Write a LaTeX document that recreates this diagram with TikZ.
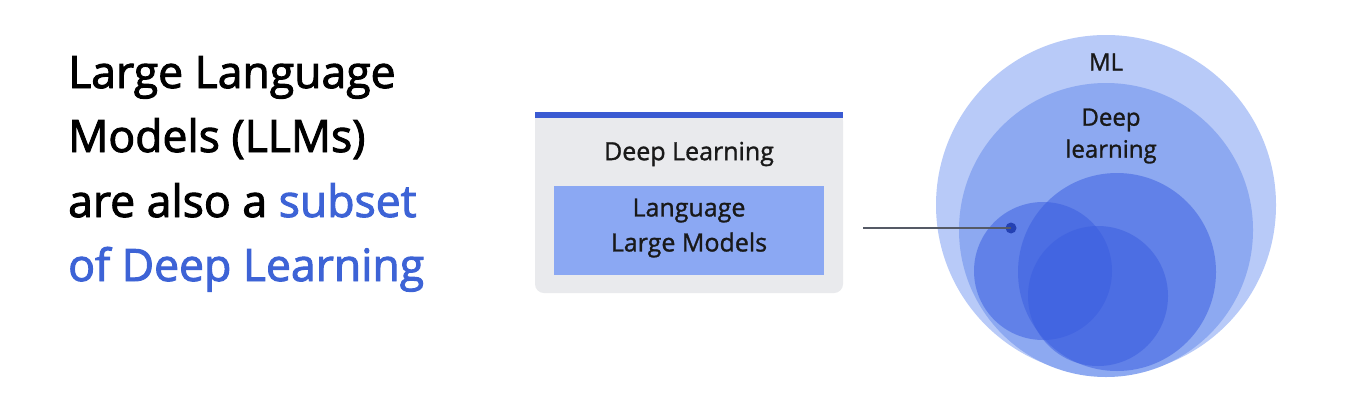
\documentclass[tikz,border=0pt]{standalone}
\usepackage{fontspec}
\setmainfont{Open Sans}
\newfontfamily\titlefont{Open Sans}[FakeBold=2.2]
\newfontfamily\labelfont{Open Sans}[FakeBold=1.2]
\definecolor{titleblue}{HTML}{3D63D6}
\definecolor{barblue}{HTML}{3A5AD2}
\definecolor{boxgrey}{HTML}{E9EAED}
\definecolor{llmbox}{HTML}{8BA8F3}
\definecolor{mlfill}{HTML}{B8CAF8}
\definecolor{dlfill}{HTML}{8DA9F1}
\definecolor{subfill}{HTML}{3A5DE0}
\definecolor{dotblue}{HTML}{2441B3}
\definecolor{linegrey}{HTML}{555A66}
\begin{document}
\begin{tikzpicture}[x=1pt,y=-1pt,
  titletext/.style={anchor=base west, inner sep=0pt, font=\titlefont\fontsize{44.5}{50}\selectfont},
  boxtext/.style={font=\labelfont\fontsize{25}{35}\selectfont, text=black!90, align=center},
  circtext/.style={font=\labelfont\fontsize{24}{32}\selectfont, text=black!90, align=center},
  subcirc/.style={fill=subfill, fill opacity=0.52, draw=none}]
\useasboundingbox (0,0) rectangle (1364,402);
\fill[white] (0,0) rectangle (1364,402);
% title
\node[titletext] (t1) at (68,88) {Large Language};
\node[titletext] (t2) at (68,152) {Models (LLMs)};
\node[titletext] (t3) at (68,217) {are also a \textcolor{titleblue}{subset}};
\node[titletext, text=titleblue] (t4) at (68,281) {of Deep Learning};
% card
\fill[boxgrey, rounded corners=9pt] (535,112) rectangle (843,293);
\fill[boxgrey] (535,112) rectangle (843,150);
\fill[barblue] (535,112) rectangle (843,118);
\node[boxtext] (dl) at (689,154) {Deep Learning};
\node[fill=llmbox, minimum width=270pt, minimum height=89pt, inner sep=0pt] (llm) at (689,230.5) {};
\node[boxtext] (llmt) at (689,228) {Language\\Large Models};
% circles
\fill[mlfill] (1106,205) circle (170);
\node[circtext] (ml) at (1106,62) {ML};
\fill[dlfill] (1106,230) circle (147);
\node[circtext] (dlt) at (1111,136) {Deep\\learning};
\fill[subcirc] (1043,271) circle (69);
\fill[subcirc] (1117,272) circle (99);
\fill[subcirc] (1098,296) circle (70);
\fill[dotblue] (1011,228) circle (5.5) coordinate (dot);
\coordinate (lstart) at (863,228);
\draw[linegrey, line width=1.3pt] (lstart) -- (dot);
\end{tikzpicture}
\end{document}
